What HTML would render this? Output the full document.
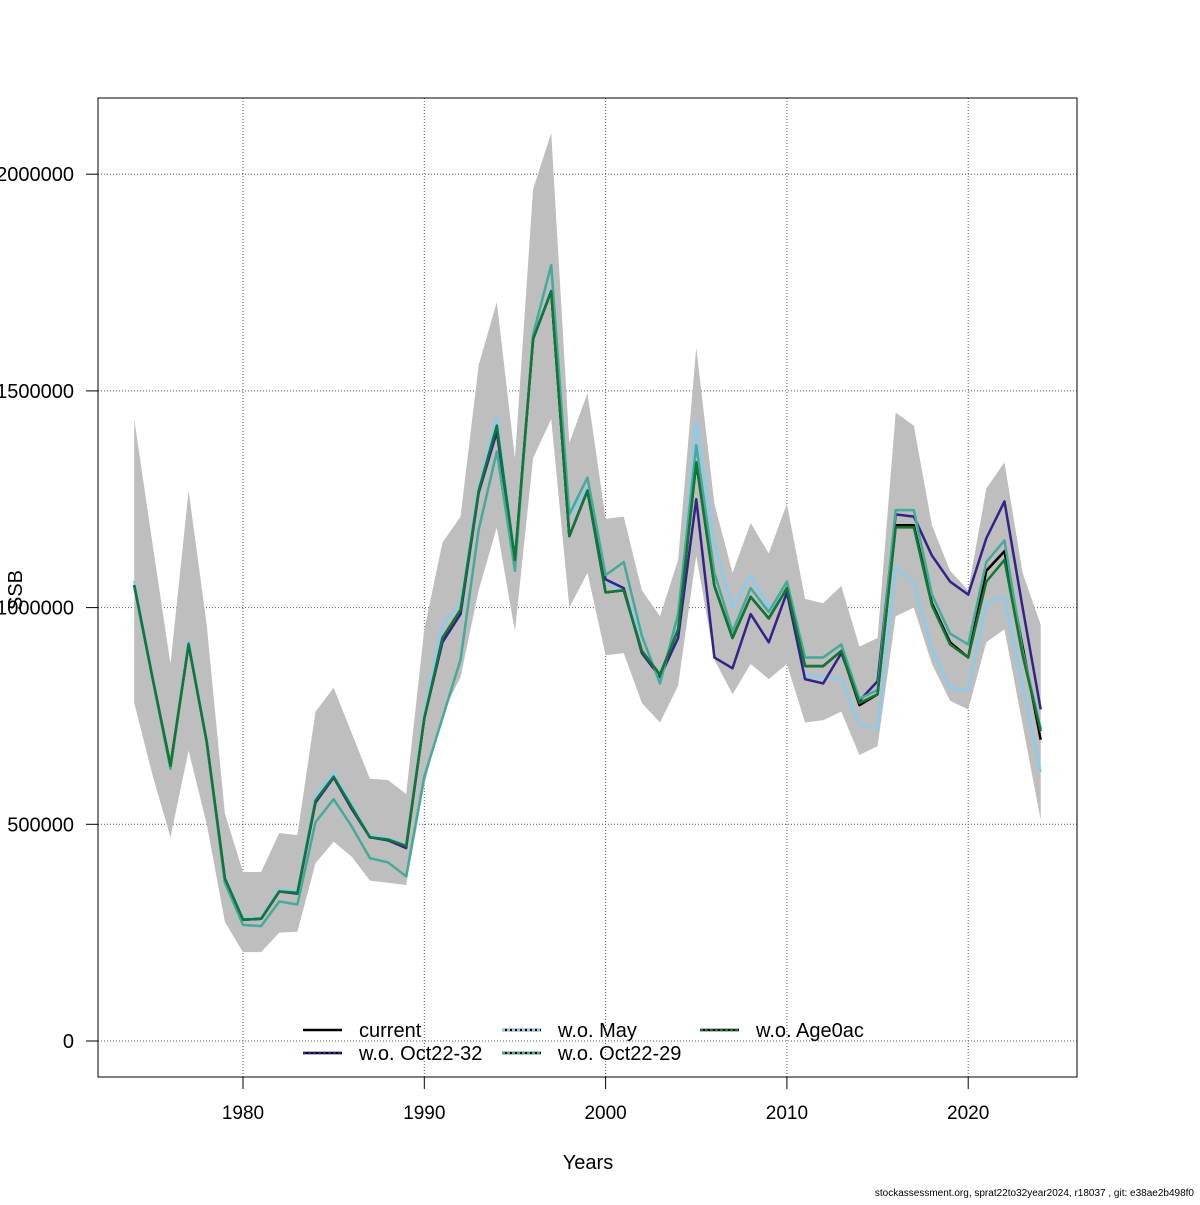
<!DOCTYPE html>
<html><head><meta charset="utf-8"><style>
html,body{margin:0;padding:0;background:#fff;}
svg text{font-family:"Liberation Sans",sans-serif;}
</style></head><body>
<svg id="chart" width="1200" height="1200" viewBox="0 0 1200 1200" xmlns="http://www.w3.org/2000/svg">
<rect x="0" y="0" width="1200" height="1200" fill="#fff"/>
<g id="grid"></g>
<g id="band"></g>
<g id="lines"></g>
<rect x="98" y="98" width="979" height="979" fill="none" stroke="#000" stroke-width="1"/>
<g id="axes"></g>
<text x="588" y="1169" font-size="20" text-anchor="middle">Years</text>
<text transform="translate(22,590) rotate(-90)" font-size="20" text-anchor="middle">SSB</text>
<text x="1194" y="1196" font-size="10" text-anchor="end">stockassessment.org, sprat22to32year2024, r18037 , git: e38ae2b498f0</text>
<g id="legend"></g>
</svg>
<script>
const years = [];
for (let y = 1974; y <= 2024; y++) years.push(y);
const xTicks = [1980, 1990, 2000, 2010, 2020];
const yTicks = [0, 500000, 1000000, 1500000, 2000000];
const yTickLabels = ["0", "500000", "1000000", "1500000", "2000000"];
const current = [1052,840,635,915,690,375,280,282,345,342,555,610,540,470,465,450,745,930,995,1270,1420,1110,1620,1730,1165,1270,1035,1040,900,845,950,1335,1050,930,1025,975,1045,865,865,900,775,800,1190,1190,1010,920,885,1085,1130,910,695];
const oct2232 = [1052,840,635,915,690,375,280,282,345,340,550,608,535,470,463,445,745,920,985,1265,1405,1110,1620,1730,1165,1270,1065,1045,895,840,930,1250,885,860,985,920,1035,835,825,895,785,830,1215,1210,1120,1060,1030,1160,1245,1000,765];
const may = [1062,845,632,925,695,378,283,285,350,346,565,618,545,474,468,452,760,960,1010,1280,1440,1115,1625,1735,1210,1275,1060,1040,930,830,960,1430,1150,1000,1075,1000,1040,845,840,835,730,720,1095,1055,905,815,810,1010,1025,820,620];
const oct2229 = [1050,838,628,918,688,365,268,265,322,315,505,558,495,422,412,380,610,745,880,1180,1360,1085,1630,1790,1215,1300,1075,1105,935,825,985,1375,1080,945,1045,990,1060,885,885,915,790,810,1225,1225,1030,940,915,1105,1155,900,720];
const age0ac = [1052,840,635,915,690,375,280,282,345,342,555,610,540,470,465,450,745,930,995,1270,1420,1110,1620,1730,1165,1270,1035,1040,900,845,950,1335,1050,930,1025,975,1045,865,865,900,780,800,1185,1185,1005,915,885,1060,1110,890,715];
const upper = [1435,1150,870,1270,960,525,390,390,480,475,760,815,710,605,602,570,950,1150,1210,1560,1705,1345,1965,2095,1380,1495,1205,1210,1040,980,1110,1600,1240,1080,1195,1125,1240,1020,1010,1050,910,930,1450,1420,1190,1085,1040,1275,1335,1080,960];
const lower = [780,615,470,670,500,275,205,205,250,252,410,460,425,370,365,360,590,755,840,1040,1185,945,1345,1435,1000,1080,890,895,780,735,820,1120,880,800,870,835,870,735,740,760,660,680,980,1000,870,785,765,920,950,730,510];
const unitScale = 1000;

const NS = "http://www.w3.org/2000/svg";
function X(yr){ return 243 + (yr - 1980) * 18.13; }
function Y(v){ return 1041 - v / 500000 * 216.7; }
function mk(tag, attrs, parent){ const e = document.createElementNS(NS, tag); for (const k in attrs) e.setAttribute(k, attrs[k]); parent.appendChild(e); return e; }

const grid = document.getElementById('grid');
xTicks.forEach(t => {
  const l = mk('line', {x1:X(t), x2:X(t), y1:98, y2:1077, stroke:'#555', 'stroke-width':1, 'stroke-dasharray':'1,2'}, grid);
  
  
});
yTicks.forEach(t => {
  const l = mk('line', {x1:98, x2:1077, y1:Y(t), y2:Y(t), stroke:'#555', 'stroke-width':1, 'stroke-dasharray':'1,2'}, grid);
  
  
});

const band = document.getElementById('band');
let pts = years.map((yr,i) => X(yr)+','+Y(upper[i]*unitScale));
for (let i = years.length-1; i >= 0; i--) pts.push(X(years[i])+','+Y(lower[i]*unitScale));
const poly = mk('polygon', {points: pts.join(' '), fill:'#bebebe', stroke:'none'}, band);



const linesG = document.getElementById('lines');
function drawLine(arr, color, w, name, dash){
  const p = mk('polyline', {points: years.map((yr,i)=>X(yr)+','+Y(arr[i]*unitScale)).join(' '), fill:'none', stroke:color, 'stroke-width':w, 'stroke-linejoin':'round'}, linesG);
  if (dash) p.setAttribute('stroke-dasharray', dash);
  
  
}
drawLine(current, '#000000', 2.5, 'line-current');
drawLine(may, '#88ccee', 2.5, 'line-wo-may');
drawLine(oct2232, '#332288', 2.5, 'line-wo-oct22-32');
drawLine(oct2229, '#44aa99', 2.5, 'line-wo-oct22-29');
drawLine(age0ac, '#117733', 2.5, 'line-wo-age0ac');

const axes = document.getElementById('axes');
xTicks.forEach(t => {
  const l = mk('line', {x1:X(t), x2:X(t), y1:1077, y2:1089, stroke:'#000', 'stroke-width':1}, axes);
  
  
  const tx = mk('text', {x:X(t), y:1119, 'font-size':19, 'text-anchor':'middle'}, axes);
  tx.textContent = t;
  
  
});
yTicks.forEach((t,i) => {
  const l = mk('line', {x1:86, x2:98, y1:Y(t), y2:Y(t), stroke:'#000', 'stroke-width':1}, axes);
  
  
  const tx = mk('text', {x:74, y:Y(t)+7, 'font-size':20, 'text-anchor':'end'}, axes);
  tx.textContent = yTickLabels[i];
  
  
});

const leg = document.getElementById('legend');
const legendItems = [
  {label:'current', color:'#000', x:303, y:1030, dash:null},
  {label:'w.o. Oct22-32', color:'#332288', x:303, y:1053, dash:'3,2'},
  {label:'w.o. May', color:'#88ccee', x:502, y:1030, dash:'3,2'},
  {label:'w.o. Oct22-29', color:'#44aa99', x:502, y:1053, dash:'3,2'},
  {label:'w.o. Age0ac', color:'#117733', x:700, y:1030, dash:'3,2'}
];
legendItems.forEach(it => {
  if (it.dash) {
    const b = mk('line', {x1:it.x, x2:it.x+39, y1:it.y, y2:it.y, stroke:'#000', 'stroke-width':2.5}, leg);
    
    
  }
  const s = mk('line', {x1:it.x, x2:it.x+39, y1:it.y, y2:it.y, stroke:it.color, 'stroke-width':2.5}, leg);
  if (it.dash) s.setAttribute('stroke-dasharray', it.dash);
  
  
  const tx = mk('text', {x:it.x+56, y:it.y+7, 'font-size':20}, leg);
  tx.textContent = it.label;
  
  
});
</script>
</body></html>
